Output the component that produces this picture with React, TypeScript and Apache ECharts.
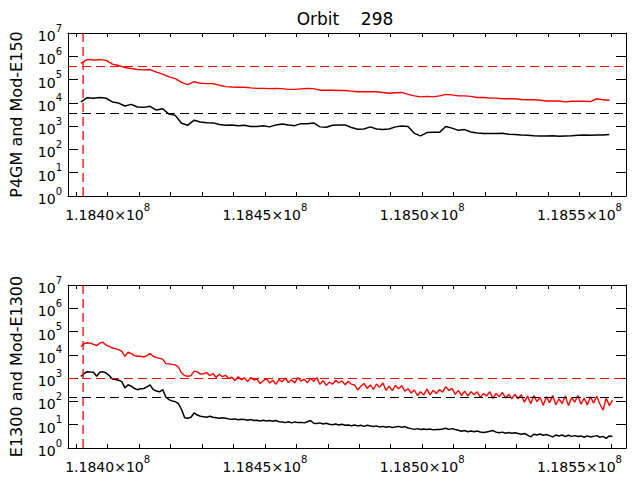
import { useEffect, useRef } from 'react';
import * as echarts from 'echarts';

// sampling grid of the orbit time axis
const T0 = 118391500;
const STEP_COARSE = 2000;
const STEP_FINE = 1000;

// upper panel: P4GM (red) and Mod-E150 (black)
const topRed = [
  5.0e5, 7.4e5, 6.9e5, 7.2e5, 6.7e5, 4.6e5, 4.0e5, 3.3e5, 3.0e5, 2.7e5,
  2.6e5, 2.7e5, 2.1e5, 1.7e5, 1.3e5, 1.1e5, 7.6e4, 6.1e4, 8.1e4, 6.9e4,
  6.7e4, 6.7e4, 5.7e4, 5.0e4, 4.8e4, 4.7e4, 4.7e4, 4.4e4, 4.2e4, 4.2e4,
  4.1e4, 4.2e4, 4.1e4, 3.8e4, 3.8e4, 4.0e4, 4.2e4, 4.1e4, 3.5e4, 3.5e4,
  3.5e4, 3.4e4, 3.4e4, 3.2e4, 3.0e4, 3.0e4, 3.0e4, 3.0e4, 2.8e4, 2.6e4,
  2.7e4, 2.8e4, 2.3e4, 2.0e4, 1.8e4, 1.9e4, 1.8e4, 2.0e4, 2.3e4, 2.2e4,
  2.0e4, 2.0e4, 1.9e4, 1.7e4, 1.7e4, 1.6e4, 1.6e4, 1.5e4, 1.5e4, 1.5e4,
  1.4e4, 1.35e4, 1.35e4, 1.3e4, 1.2e4, 1.2e4, 1.2e4, 1.1e4, 1.17e4, 1.17e4,
  1.17e4, 1.13e4, 1.5e4, 1.35e4, 1.3e4,
];
const topBlack = [
  1.1e4, 1.67e4, 1.58e4, 1.7e4, 1.58e4, 1.1e4, 9.8e3, 7.3e3, 8.6e3, 6.6e3,
  6.4e3, 7.1e3, 4.9e3, 5.6e3, 3.3e3, 2.9e3, 1.33e3, 1.1e3, 1.8e3, 1.5e3,
  1.4e3, 1.38e3, 1.17e3, 1.1e3, 1.13e3, 1.05e3, 1.1e3, 9.7e2, 9.7e2, 1.05e3,
  9.3e2, 1.13e3, 1.23e3, 1.13e3, 1.05e3, 1.28e3, 1.28e3, 1.38e3, 9.3e2, 8.9e2,
  1.1e3, 1.13e3, 1.13e3, 8.7e2, 7.4e2, 7.6e2, 9.3e2, 7.6e2, 7.1e2, 7.6e2,
  9.3e2, 1.02e3, 9.7e2, 4.9e2, 3.8e2, 5.3e2, 5.4e2, 5.4e2, 9.7e2, 8.2e2,
  6.6e2, 7.1e2, 5.6e2, 5.1e2, 4.8e2, 4.8e2, 4.8e2, 4.9e2, 4.5e2, 4.4e2,
  4.2e2, 4.1e2, 3.9e2, 3.8e2, 3.8e2, 3.9e2, 3.7e2, 3.8e2, 3.9e2, 4.1e2,
  4.2e2, 4.1e2, 4.2e2, 4.2e2, 4.4e2,
];

// lower panel: E1300 (red) and Mod-E1300 (black), fine sampling
const botRed = [
  2.3e4, 3.0e4, 3.3e4, 3.2e4, 2.8e4, 2.5e4, 3.2e4, 3.5e4, 2.6e4, 2.3e4,
  1.96e4, 1.85e4, 1.67e4, 1.4e4, 8.7e3, 1.3e4, 1.13e4, 9.3e3, 8.7e3, 8.7e3,
  8.1e3, 9.3e3, 1.13e4, 8.7e3, 7.6e3, 7.1e3, 6.6e3, 4.2e3, 4.1e3, 3.9e3,
  3.7e3, 3.0e3, 1.66e3, 1.29e3, 1.2e3, 1.29e3, 2.0e3, 1.85e3, 1.48e3, 1.55e3,
  1.74e3, 1.26e3, 1.58e3, 1.07e3, 1.48e3, 1.15e3, 1.32e3, 9.5e2, 1.1e3, 7.9e2,
  1.15e3, 8.5e2, 1.02e3, 7.1e2, 1.07e3, 8.3e2, 9.1e2, 5.9e2, 7.8e2, 9.5e2,
  6.2e2, 8.1e2, 5.5e2, 8.7e2, 6.9e2, 1.0e3, 6.5e2, 8.5e2, 6.2e2, 1.05e3,
  7.4e2, 9.1e2, 6.3e2, 9.8e2, 7.4e2, 1.05e3, 5.4e2, 7.8e2, 4.9e2, 6.8e2,
  5.5e2, 8.1e2, 6.2e2, 7.6e2, 5.2e2, 7.4e2, 5.5e2, 5.1e2, 3.1e2, 4.5e2,
  5.9e2, 3.6e2, 5.1e2, 3.3e2, 5.6e2, 4.1e2, 6.2e2, 3.0e2, 4.5e2, 2.9e2,
  4.9e2, 3.5e2, 4.7e2, 2.75e2, 3.5e2, 2.3e2, 3.1e2, 1.8e2, 2.6e2, 1.9e2,
  3.4e2, 1.9e2, 3.0e2, 2.2e2, 3.2e2, 2.5e2, 4.3e2, 2.9e2, 3.7e2, 2.0e2,
  3.0e2, 1.8e2, 2.75e2, 1.74e2, 2.6e2, 1.95e2, 2.6e2, 1.5e2, 2.2e2, 1.74e2,
  2.6e2, 1.35e2, 2.2e2, 1.6e2, 2.45e2, 1.4e2, 2.0e2, 1.3e2, 2.0e2, 1.3e2,
  1.95e2, 93, 1.7e2, 79, 1.78e2, 98, 1.5e2, 68, 1.6e2, 89,
  1.78e2, 72, 1.3e2, 81, 1.7e2, 66, 1.48e2, 93, 1.8e2, 76,
  1.4e2, 71, 1.58e2, 85, 1.66e2, 78, 42, 1.4e2, 66, 1.12e2,
];
const botBlack = [
  1.2e3, 1.55e3, 1.9e3, 1.82e3, 1.78e3, 1.2e3, 1.78e3, 1.9e3, 1.66e3, 1.29e3,
  9.1e2, 8.7e2, 8.1e2, 7.1e2, 3.8e2, 5.2e2, 4.5e2, 3.6e2, 3.2e2, 3.5e2,
  3.6e2, 4.2e2, 5.1e2, 3.2e2, 2.8e2, 2.6e2, 3.2e2, 1.55e2, 1.2e2, 1.05e2,
  98, 81, 45, 20, 19, 21, 32, 26, 23, 22,
  21, 23, 21, 20, 19, 20, 19, 17.8, 17, 17.8,
  16.2, 17, 16.6, 15.5, 16.6, 15.1, 15.5, 14.5, 15.5, 14.5,
  15.1, 14.1, 15.1, 13.5, 13.2, 12.3, 13.5, 12, 13.2, 12.3,
  12.6, 12, 13.5, 15.1, 11.5, 11.2, 12, 10.7, 11.5, 10.5,
  10, 10.7, 9.8, 10.5, 9.5, 9.8, 9.1, 9.8, 8.9, 9.5,
  8.5, 9.5, 8.9, 8.3, 8.9, 7.9, 8.5, 7.8, 8.3, 7.6,
  7.9, 8.5, 7.8, 8.3, 7.2, 6.8, 6.3, 6.8, 6.2, 6.6,
  6.2, 6.6, 6.0, 6.3, 6.2, 6.6, 7.1, 6.3, 6.8, 6.2,
  5.8, 5.2, 5.6, 5.0, 5.4, 5.0, 5.4, 4.9, 4.6, 4.9,
  5.2, 5.6, 4.8, 4.5, 4.8, 4.3, 4.6, 4.3, 4.5, 4.2,
  3.9, 4.2, 3.6, 3.0, 3.9, 3.6, 4.0, 3.55, 3.8, 3.4,
  3.0, 3.6, 3.3, 3.6, 3.1, 3.55, 3.16, 3.4, 3.1, 3.3,
  2.9, 3.3, 3.0, 3.16, 3.4, 2.9, 3.16, 2.6, 3.3, 3.1,
];

// reference levels (dashed)
const TOP_RED_LEVEL = 3.8e5;
const TOP_BLACK_LEVEL = 3.7e3;
const BOT_RED_LEVEL = 1.0e3;
const BOT_BLACK_LEVEL = 1.55e2;
const START_MARK = 118392200;

// axes
const X_MIN = 118387400;
const X_MAX = 118564800;
const X_TICKS = [
  118390000, 118400000, 118410000, 118420000, 118430000, 118440000,
  118450000, 118460000, 118470000, 118480000, 118490000, 118500000,
  118510000, 118520000, 118530000, 118540000, 118550000, 118560000,
];
const X_LABEL_VALUES = [118400000, 118450000, 118500000, 118550000];
const X_LABEL_TEXT = ['1.1840', '1.1845', '1.1850', '1.1855'];
const Y_MIN = 1;
const Y_MAX = 1e7;
const Y_EXPONENTS = ['0', '1', '2', '3', '4', '5', '6', '7'];

const TITLE = 'Orbit    298';
const Y_NAMES = ['P4GM and Mod-E150', 'E1300 and Mod-E1300'];

const FONT = 'DejaVu Sans';
const RED = '#ff0000';
const BLACK = '#000000';

const rich = {
  m: { fontSize: 14, fontFamily: FONT, color: BLACK, lineHeight: 20, verticalAlign: 'bottom' },
  e: { fontSize: 10, fontFamily: FONT, color: BLACK, verticalAlign: 'top' },
};

const pairs = (vals: number[], step: number) => vals.map((v, i) => [T0 + i * step, v]);

function xAxes(gridIndex: number) {
  const common = {
    type: 'value',
    gridIndex,
    min: X_MIN,
    max: X_MAX,
    splitLine: { show: false },
    axisLine: { show: true, lineStyle: { color: BLACK, width: 1 } },
    axisTick: { show: true, inside: true, length: 4, customValues: X_TICKS, lineStyle: { color: BLACK } },
  };
  return [
    {
      ...common,
      position: 'bottom',
      axisLabel: {
        customValues: X_LABEL_VALUES,
        margin: 6,
        formatter: (v: number) => {
          const k = X_LABEL_VALUES.findIndex((x) => Math.abs(x - v) < 1);
          return `{m|${X_LABEL_TEXT[k]}×10}{e|8}`;
        },
        rich,
      },
    },
    { ...common, position: 'top', axisLabel: { show: false } },
  ];
}

function yAxes(gridIndex: number, name: string) {
  const common = {
    type: 'log',
    logBase: 10,
    gridIndex,
    min: Y_MIN,
    max: Y_MAX,
    interval: 1,
    splitNumber: 7,
    splitLine: { show: false },
    axisLine: { show: true, lineStyle: { color: BLACK, width: 1 } },
    axisTick: { show: true, inside: true, length: 10, lineStyle: { color: BLACK } },
  };
  return [
    {
      ...common,
      position: 'left',
      name,
      nameLocation: 'middle',
      nameGap: 44,
      nameTextStyle: { fontFamily: FONT, fontSize: 16, color: BLACK },
      axisLabel: {
        margin: 6,
        formatter: (v: number) => `{m|10}{e|${Y_EXPONENTS[Math.round(Math.log10(v))]}}`,
        rich,
      },
    },
    { ...common, position: 'right', axisLabel: { show: false } },
  ];
}

const dashed = (color: string) => ({ color, width: 1, type: [9, 5] });

function level(color: string, value: number) {
  return {
    silent: true,
    symbol: 'none',
    label: { show: false },
    lineStyle: dashed(color),
    data: [{ yAxis: value }],
  };
}

function startLine(axisIndex: number) {
  return {
    name: 'start',
    type: 'line',
    xAxisIndex: axisIndex,
    yAxisIndex: axisIndex,
    data: [
      [START_MARK, Y_MIN],
      [START_MARK, Y_MAX],
    ],
    symbol: 'none',
    silent: true,
    color: RED,
    lineStyle: { ...dashed(RED), width: 1.3 },
    z: 3,
  };
}

export default function App() {
  const ref = useRef<HTMLDivElement>(null);

  useEffect(() => {
    if (!ref.current) return;
    const chart = echarts.init(ref.current, null, { renderer: 'svg' });

    chart.setOption({
      animation: false,
      backgroundColor: '#ffffff',
      textStyle: { fontFamily: FONT },
      graphic: [
        {
          type: 'text',
          x: 345,
          y: 19,
          style: { text: TITLE, align: 'center', verticalAlign: 'middle', fontSize: 17, fontFamily: FONT, fill: BLACK },
        },
      ],
      grid: [
        { left: 65, top: 33, width: 561, height: 163 },
        { left: 65, top: 285, width: 561, height: 163 },
      ],
      xAxis: [...xAxes(0), ...xAxes(1)],
      yAxis: [...yAxes(0, Y_NAMES[0]), ...yAxes(1, Y_NAMES[1])],
      series: [
        {
          name: 'Mod-E150',
          type: 'line',
          xAxisIndex: 0,
          yAxisIndex: 0,
          data: pairs(topBlack, STEP_COARSE),
          symbol: 'none',
          color: BLACK,
          lineStyle: { color: BLACK, width: 1.5 },
          markLine: level(BLACK, TOP_BLACK_LEVEL),
        },
        {
          name: 'P4GM',
          type: 'line',
          xAxisIndex: 0,
          yAxisIndex: 0,
          data: pairs(topRed, STEP_COARSE),
          symbol: 'none',
          color: RED,
          lineStyle: { color: RED, width: 1.4 },
          markLine: level(RED, TOP_RED_LEVEL),
        },
        startLine(0),
        {
          name: 'Mod-E1300',
          type: 'line',
          xAxisIndex: 2,
          yAxisIndex: 2,
          data: pairs(botBlack, STEP_FINE),
          symbol: 'none',
          color: BLACK,
          lineStyle: { color: BLACK, width: 1.5 },
          markLine: level(BLACK, BOT_BLACK_LEVEL),
        },
        {
          name: 'E1300',
          type: 'line',
          xAxisIndex: 2,
          yAxisIndex: 2,
          data: pairs(botRed, STEP_FINE),
          symbol: 'none',
          color: RED,
          lineStyle: { color: RED, width: 1.4 },
          markLine: level(RED, BOT_RED_LEVEL),
        },
        startLine(2),
      ],
    });

    return () => chart.dispose();
  }, []);

  return <div ref={ref} style={{ position: 'absolute', left: 0, top: 0, width: 637, height: 480 }} />;
}
